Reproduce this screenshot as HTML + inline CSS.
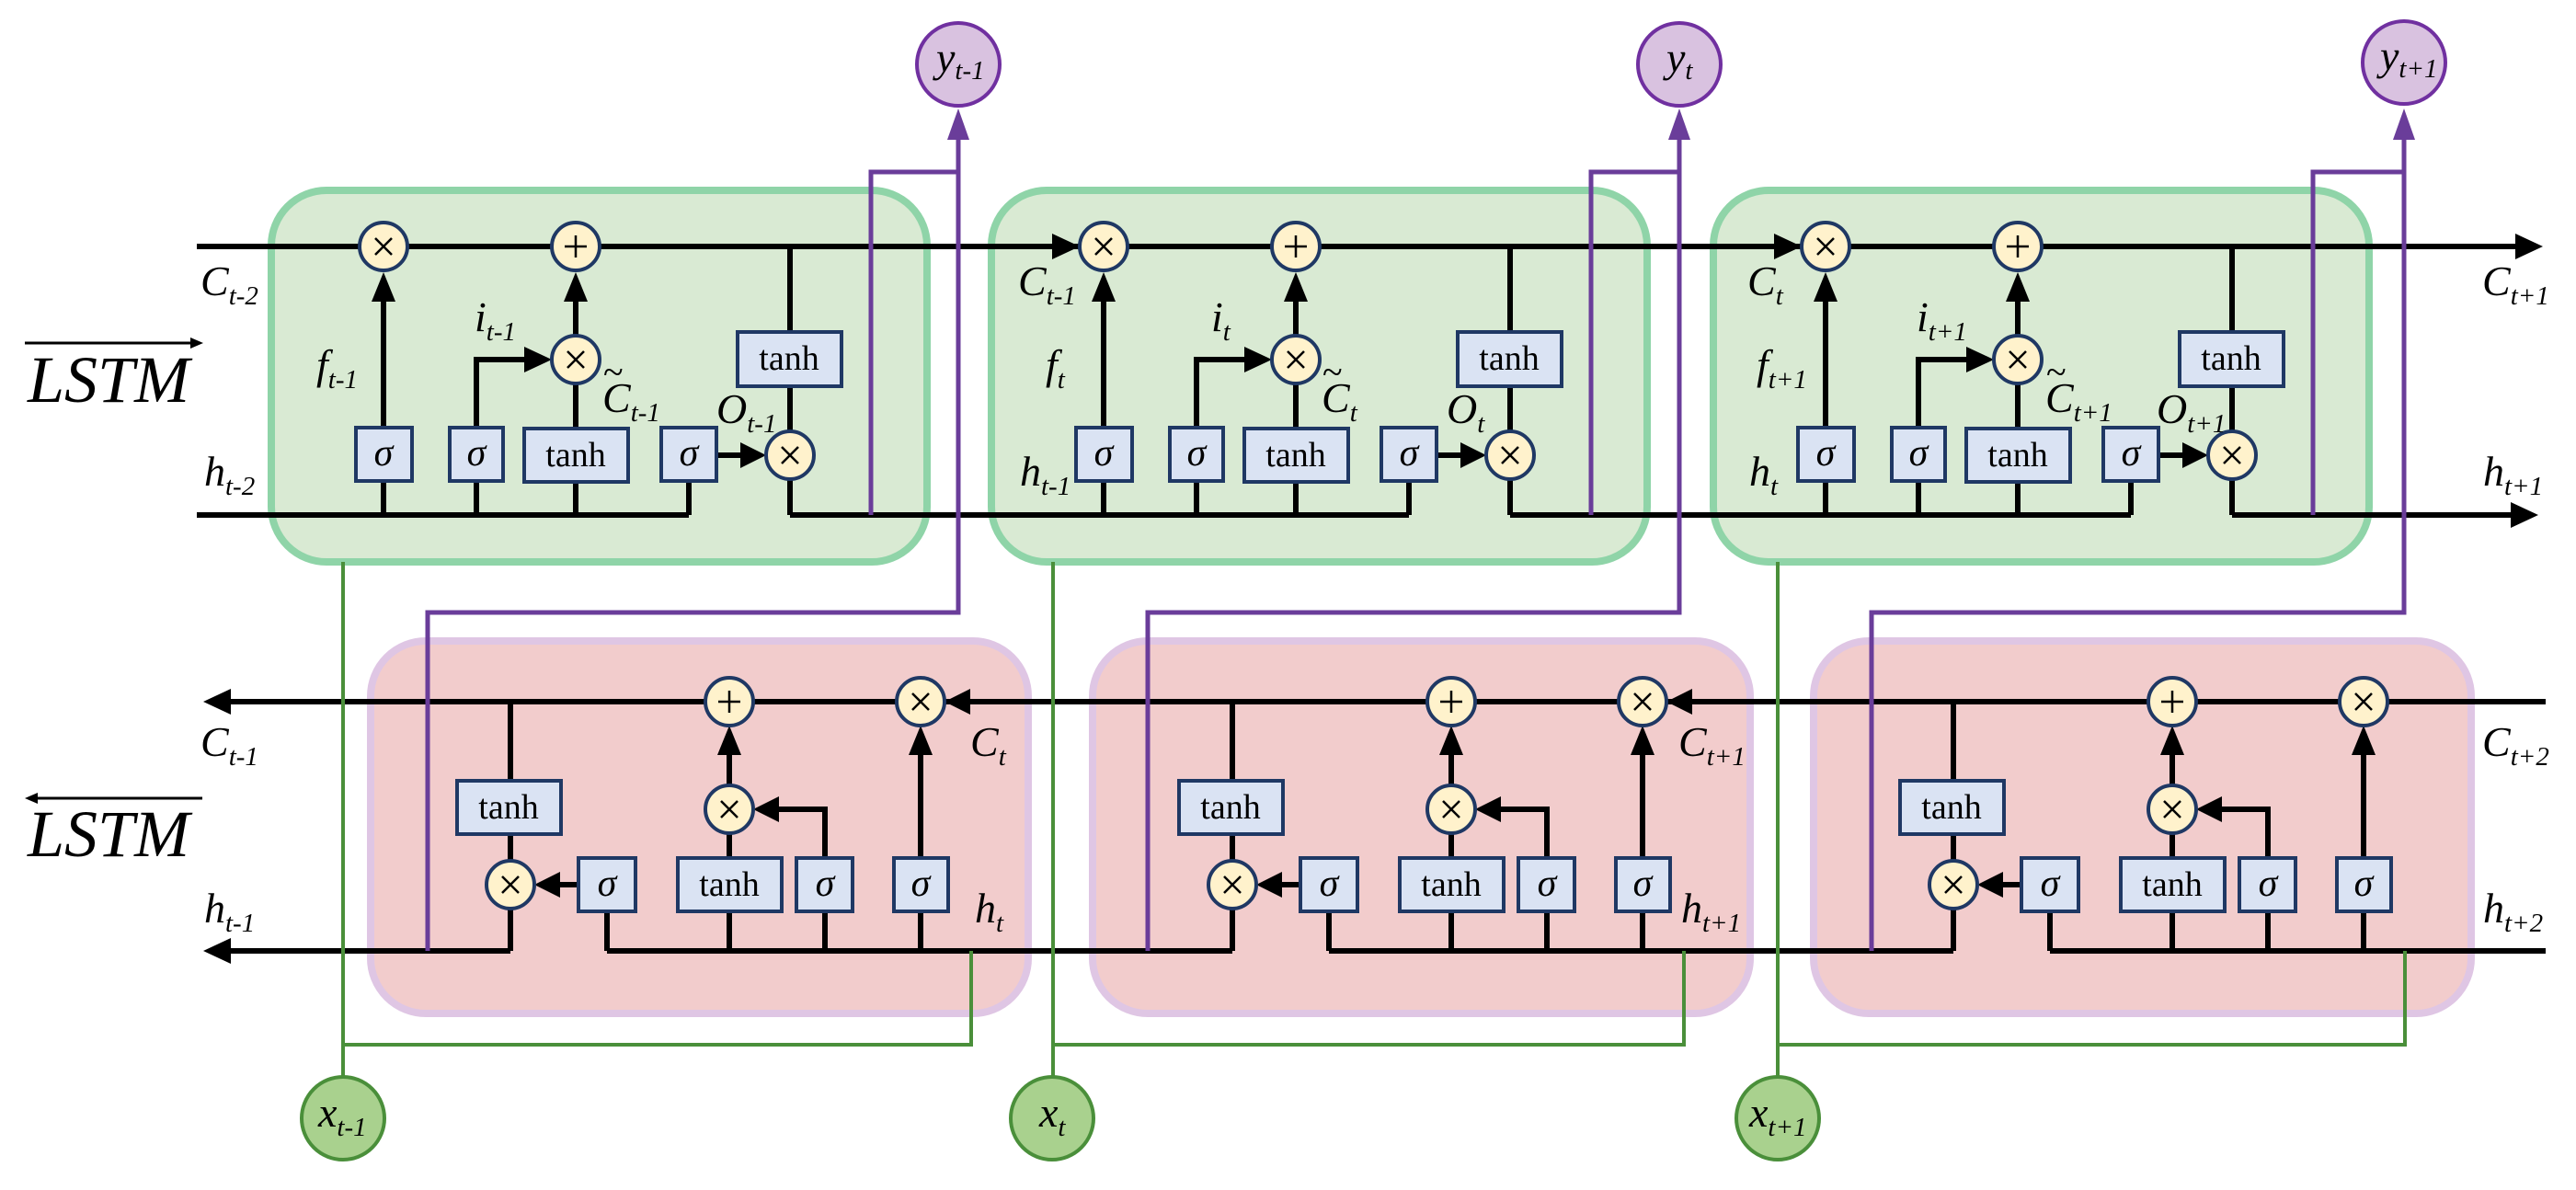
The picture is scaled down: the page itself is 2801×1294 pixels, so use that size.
<!DOCTYPE html>
<html><head><meta charset="utf-8"><style>
html,body{margin:0;padding:0;background:#fff;}
svg{display:block;}
text{font-family:"Liberation Serif",serif;}
.ln{stroke:#000;stroke-width:6;fill:none;}
.bx{fill:#dae3f3;stroke:#1f3864;stroke-width:4;}
.ci{fill:#fff2cc;stroke:#1f3864;stroke-width:4;}
.op{stroke:#000;stroke-width:2.5;fill:none;}
.pu{stroke:#6a3d9a;stroke-width:5;fill:none;}
.gr{stroke:#4a8f3a;stroke-width:4;fill:none;}
.lb{font-size:46px;font-style:italic;}
.sb{font-size:29px;font-style:italic;}
.bt{font-size:38px;text-anchor:middle;}
.sg{font-size:42px;font-style:italic;text-anchor:middle;}
</style></head><body>
<svg width="2801" height="1294" viewBox="0 0 2801 1294" xmlns="http://www.w3.org/2000/svg">
<rect x="295" y="207" width="713" height="404" rx="60" fill="#d9ead3" stroke="#8fd4a8" stroke-width="8"/>
<rect x="1078" y="207" width="713" height="404" rx="60" fill="#d9ead3" stroke="#8fd4a8" stroke-width="8"/>
<rect x="1863" y="207" width="713" height="404" rx="60" fill="#d9ead3" stroke="#8fd4a8" stroke-width="8"/>
<rect x="403" y="697" width="715" height="405" rx="60" fill="#f2cccc" stroke="#dfc6e4" stroke-width="8"/>
<rect x="1188" y="697" width="715" height="405" rx="60" fill="#f2cccc" stroke="#dfc6e4" stroke-width="8"/>
<rect x="1972" y="697" width="715" height="405" rx="60" fill="#f2cccc" stroke="#dfc6e4" stroke-width="8"/>

<line class="ln" x1="214" y1="268" x2="2740" y2="268"/>
<polygon points="2765,268 2735,254 2735,282"/>
<line class="ln" x1="214" y1="560" x2="749" y2="560"/>
<line class="ln" x1="859" y1="560" x2="1532" y2="560"/>
<line class="ln" x1="1642" y1="560" x2="2317" y2="560"/>
<line class="ln" x1="2427" y1="560" x2="2735" y2="560"/>
<polygon points="2760,560 2730,546 2730,574"/>

<line class="ln" x1="245" y1="763" x2="2768" y2="763"/>
<polygon points="221,763 251,749 251,777"/>
<line class="ln" x1="245" y1="1034" x2="555" y2="1034"/>
<polygon points="221,1034 251,1020 251,1048"/>
<line class="ln" x1="660" y1="1034" x2="1340" y2="1034"/>
<line class="ln" x1="1445" y1="1034" x2="2124" y2="1034"/>
<line class="ln" x1="2229" y1="1034" x2="2768" y2="1034"/>

<g>
<line class="ln" x1="417" y1="560" x2="417" y2="320"/>
<polygon points="417,296 404,328 430,328"/>
<line class="ln" x1="518" y1="560" x2="518" y2="391"/>
<line class="ln" x1="515" y1="391" x2="575" y2="391"/>
<polygon points="600,391 570,377 570,405"/>
<line class="ln" x1="626" y1="560" x2="626" y2="320"/>
<polygon points="626,296 613,328 639,328"/>
<line class="ln" x1="749" y1="560" x2="749" y2="495"/>
<line class="ln" x1="779" y1="495" x2="810" y2="495"/>
<polygon points="833,495 805,481 805,509"/>
<line class="ln" x1="859" y1="268" x2="859" y2="560"/>
<rect class="bx" x="387" y="465" width="61" height="58"/>
<rect class="bx" x="489" y="465" width="58" height="58"/>
<rect class="bx" x="570" y="466" width="113" height="58"/>
<rect class="bx" x="719" y="465" width="60" height="58"/>
<rect class="bx" x="802" y="361" width="113" height="59"/>
<circle class="ci" cx="417" cy="268" r="26"/>
<circle class="ci" cx="626" cy="268" r="26"/>
<circle class="ci" cx="626" cy="391" r="26"/>
<circle class="ci" cx="859" cy="495" r="26"/>
<path class="op" d="M408,259 L426,277 M426,259 L408,277"/>
<path class="op" d="M626,256 L626,280 M614,268 L638,268"/>
<path class="op" d="M617,382 L635,400 M635,382 L617,400"/>
<path class="op" d="M850,486 L868,504 M868,486 L850,504"/>
<text class="sg" x="417" y="506">σ</text>
<text class="sg" x="518" y="506">σ</text>
<text class="bt" x="626" y="507">tanh</text>
<text class="sg" x="749" y="506">σ</text>
<text class="bt" x="858" y="402">tanh</text>
</g>

<g transform="translate(783,0)">
<line class="ln" x1="417" y1="560" x2="417" y2="320"/>
<polygon points="417,296 404,328 430,328"/>
<line class="ln" x1="518" y1="560" x2="518" y2="391"/>
<line class="ln" x1="515" y1="391" x2="575" y2="391"/>
<polygon points="600,391 570,377 570,405"/>
<line class="ln" x1="626" y1="560" x2="626" y2="320"/>
<polygon points="626,296 613,328 639,328"/>
<line class="ln" x1="749" y1="560" x2="749" y2="495"/>
<line class="ln" x1="779" y1="495" x2="810" y2="495"/>
<polygon points="833,495 805,481 805,509"/>
<line class="ln" x1="859" y1="268" x2="859" y2="560"/>
<polygon points="391,268 361,254 361,282"/>
<rect class="bx" x="387" y="465" width="61" height="58"/>
<rect class="bx" x="489" y="465" width="58" height="58"/>
<rect class="bx" x="570" y="466" width="113" height="58"/>
<rect class="bx" x="719" y="465" width="60" height="58"/>
<rect class="bx" x="802" y="361" width="113" height="59"/>
<circle class="ci" cx="417" cy="268" r="26"/>
<circle class="ci" cx="626" cy="268" r="26"/>
<circle class="ci" cx="626" cy="391" r="26"/>
<circle class="ci" cx="859" cy="495" r="26"/>
<path class="op" d="M408,259 L426,277 M426,259 L408,277"/>
<path class="op" d="M626,256 L626,280 M614,268 L638,268"/>
<path class="op" d="M617,382 L635,400 M635,382 L617,400"/>
<path class="op" d="M850,486 L868,504 M868,486 L850,504"/>
<text class="sg" x="417" y="506">σ</text>
<text class="sg" x="518" y="506">σ</text>
<text class="bt" x="626" y="507">tanh</text>
<text class="sg" x="749" y="506">σ</text>
<text class="bt" x="858" y="402">tanh</text>
</g>

<g transform="translate(1568,0)">
<line class="ln" x1="417" y1="560" x2="417" y2="320"/>
<polygon points="417,296 404,328 430,328"/>
<line class="ln" x1="518" y1="560" x2="518" y2="391"/>
<line class="ln" x1="515" y1="391" x2="575" y2="391"/>
<polygon points="600,391 570,377 570,405"/>
<line class="ln" x1="626" y1="560" x2="626" y2="320"/>
<polygon points="626,296 613,328 639,328"/>
<line class="ln" x1="749" y1="560" x2="749" y2="495"/>
<line class="ln" x1="779" y1="495" x2="810" y2="495"/>
<polygon points="833,495 805,481 805,509"/>
<line class="ln" x1="859" y1="268" x2="859" y2="560"/>
<polygon points="391,268 361,254 361,282"/>
<rect class="bx" x="387" y="465" width="61" height="58"/>
<rect class="bx" x="489" y="465" width="58" height="58"/>
<rect class="bx" x="570" y="466" width="113" height="58"/>
<rect class="bx" x="719" y="465" width="60" height="58"/>
<rect class="bx" x="802" y="361" width="113" height="59"/>
<circle class="ci" cx="417" cy="268" r="26"/>
<circle class="ci" cx="626" cy="268" r="26"/>
<circle class="ci" cx="626" cy="391" r="26"/>
<circle class="ci" cx="859" cy="495" r="26"/>
<path class="op" d="M408,259 L426,277 M426,259 L408,277"/>
<path class="op" d="M626,256 L626,280 M614,268 L638,268"/>
<path class="op" d="M617,382 L635,400 M635,382 L617,400"/>
<path class="op" d="M850,486 L868,504 M868,486 L850,504"/>
<text class="sg" x="417" y="506">σ</text>
<text class="sg" x="518" y="506">σ</text>
<text class="bt" x="626" y="507">tanh</text>
<text class="sg" x="749" y="506">σ</text>
<text class="bt" x="858" y="402">tanh</text>
</g>

<g>
<line class="ln" x1="555" y1="763" x2="555" y2="1034"/>
<line class="ln" x1="660" y1="1034" x2="660" y2="962"/>
<line class="ln" x1="629" y1="962" x2="605" y2="962"/>
<polygon points="581,962 609,948 609,976"/>
<line class="ln" x1="793" y1="1034" x2="793" y2="815"/>
<polygon points="793,789 780,821 806,821"/>
<line class="ln" x1="897" y1="1034" x2="897" y2="880"/>
<line class="ln" x1="900" y1="880" x2="843" y2="880"/>
<polygon points="819,880 847,866 847,894"/>
<line class="ln" x1="1001" y1="1034" x2="1001" y2="815"/>
<polygon points="1001,789 988,821 1014,821"/>
<polygon points="1027,763 1055,749 1055,777"/>
<rect class="bx" x="497" y="849" width="113" height="58"/>
<rect class="bx" x="629" y="933" width="62" height="58"/>
<rect class="bx" x="737" y="933" width="113" height="58"/>
<rect class="bx" x="866" y="933" width="61" height="58"/>
<rect class="bx" x="972" y="933" width="59" height="58"/>
<circle class="ci" cx="793" cy="763" r="26"/>
<circle class="ci" cx="1001" cy="763" r="26"/>
<circle class="ci" cx="793" cy="880" r="26"/>
<circle class="ci" cx="555" cy="962" r="26"/>
<path class="op" d="M793,751 L793,775 M781,763 L805,763"/>
<path class="op" d="M992,754 L1010,772 M1010,754 L992,772"/>
<path class="op" d="M784,871 L802,889 M802,871 L784,889"/>
<path class="op" d="M546,953 L564,971 M564,953 L546,971"/>
<text class="bt" x="553" y="890">tanh</text>
<text class="sg" x="660" y="974">σ</text>
<text class="bt" x="793" y="974">tanh</text>
<text class="sg" x="897" y="974">σ</text>
<text class="sg" x="1001" y="974">σ</text>
</g>
<g transform="translate(785,0)">
<line class="ln" x1="555" y1="763" x2="555" y2="1034"/>
<line class="ln" x1="660" y1="1034" x2="660" y2="962"/>
<line class="ln" x1="629" y1="962" x2="605" y2="962"/>
<polygon points="581,962 609,948 609,976"/>
<line class="ln" x1="793" y1="1034" x2="793" y2="815"/>
<polygon points="793,789 780,821 806,821"/>
<line class="ln" x1="897" y1="1034" x2="897" y2="880"/>
<line class="ln" x1="900" y1="880" x2="843" y2="880"/>
<polygon points="819,880 847,866 847,894"/>
<line class="ln" x1="1001" y1="1034" x2="1001" y2="815"/>
<polygon points="1001,789 988,821 1014,821"/>
<polygon points="1027,763 1055,749 1055,777"/>
<rect class="bx" x="497" y="849" width="113" height="58"/>
<rect class="bx" x="629" y="933" width="62" height="58"/>
<rect class="bx" x="737" y="933" width="113" height="58"/>
<rect class="bx" x="866" y="933" width="61" height="58"/>
<rect class="bx" x="972" y="933" width="59" height="58"/>
<circle class="ci" cx="793" cy="763" r="26"/>
<circle class="ci" cx="1001" cy="763" r="26"/>
<circle class="ci" cx="793" cy="880" r="26"/>
<circle class="ci" cx="555" cy="962" r="26"/>
<path class="op" d="M793,751 L793,775 M781,763 L805,763"/>
<path class="op" d="M992,754 L1010,772 M1010,754 L992,772"/>
<path class="op" d="M784,871 L802,889 M802,871 L784,889"/>
<path class="op" d="M546,953 L564,971 M564,953 L546,971"/>
<text class="bt" x="553" y="890">tanh</text>
<text class="sg" x="660" y="974">σ</text>
<text class="bt" x="793" y="974">tanh</text>
<text class="sg" x="897" y="974">σ</text>
<text class="sg" x="1001" y="974">σ</text>
</g>
<g transform="translate(1569,0)">
<line class="ln" x1="555" y1="763" x2="555" y2="1034"/>
<line class="ln" x1="660" y1="1034" x2="660" y2="962"/>
<line class="ln" x1="629" y1="962" x2="605" y2="962"/>
<polygon points="581,962 609,948 609,976"/>
<line class="ln" x1="793" y1="1034" x2="793" y2="815"/>
<polygon points="793,789 780,821 806,821"/>
<line class="ln" x1="897" y1="1034" x2="897" y2="880"/>
<line class="ln" x1="900" y1="880" x2="843" y2="880"/>
<polygon points="819,880 847,866 847,894"/>
<line class="ln" x1="1001" y1="1034" x2="1001" y2="815"/>
<polygon points="1001,789 988,821 1014,821"/>
<rect class="bx" x="497" y="849" width="113" height="58"/>
<rect class="bx" x="629" y="933" width="62" height="58"/>
<rect class="bx" x="737" y="933" width="113" height="58"/>
<rect class="bx" x="866" y="933" width="61" height="58"/>
<rect class="bx" x="972" y="933" width="59" height="58"/>
<circle class="ci" cx="793" cy="763" r="26"/>
<circle class="ci" cx="1001" cy="763" r="26"/>
<circle class="ci" cx="793" cy="880" r="26"/>
<circle class="ci" cx="555" cy="962" r="26"/>
<path class="op" d="M793,751 L793,775 M781,763 L805,763"/>
<path class="op" d="M992,754 L1010,772 M1010,754 L992,772"/>
<path class="op" d="M784,871 L802,889 M802,871 L784,889"/>
<path class="op" d="M546,953 L564,971 M564,953 L546,971"/>
<text class="bt" x="553" y="890">tanh</text>
<text class="sg" x="660" y="974">σ</text>
<text class="bt" x="793" y="974">tanh</text>
<text class="sg" x="897" y="974">σ</text>
<text class="sg" x="1001" y="974">σ</text>
</g>

<g class="gr">
<polyline points="373,611 373,1170"/><polyline points="373,1136 1056,1136 1056,1034"/>
<polyline points="1145,611 1145,1170"/><polyline points="1145,1136 1831,1136 1831,1034"/>
<polyline points="1933,611 1933,1170"/><polyline points="1933,1136 2615,1136 2615,1034"/>
</g>
<circle cx="373" cy="1216" r="45" fill="#a9d18e" stroke="#4a8f3a" stroke-width="4"/>
<circle cx="1144" cy="1216" r="45" fill="#a9d18e" stroke="#4a8f3a" stroke-width="4"/>
<circle cx="1933" cy="1216" r="45" fill="#a9d18e" stroke="#4a8f3a" stroke-width="4"/>

<g class="pu">
<polyline points="947,560 947,187 1042,187"/><polyline points="465,1034 465,666 1042,666 1042,145"/>
<polyline points="1730,560 1730,187 1826,187"/><polyline points="1248,1034 1248,666 1826,666 1826,145"/>
<polyline points="2515,560 2515,187 2614,187"/><polyline points="2035,1034 2035,666 2614,666 2614,145"/>
</g>
<g fill="#6a3d9a">
<polygon points="1042,118 1030,152 1054,152"/>
<polygon points="1826,118 1814,152 1838,152"/>
<polygon points="2614,118 2602,152 2626,152"/>
</g>
<circle cx="1042" cy="70" r="45" fill="#d9c2e0" stroke="#7030a0" stroke-width="4"/>
<circle cx="1826" cy="70" r="45" fill="#d9c2e0" stroke="#7030a0" stroke-width="4"/>
<circle cx="2614" cy="68" r="45" fill="#d9c2e0" stroke="#7030a0" stroke-width="4"/>

<text class="lb" x="1018" y="78">y<tspan class="sb" dy="8">t-1</tspan></text>
<text class="lb" x="1812" y="78">y<tspan class="sb" dy="8">t</tspan></text>
<text class="lb" x="2588" y="76">y<tspan class="sb" dy="8">t+1</tspan></text>
<text class="lb" x="346" y="1225">x<tspan class="sb" dy="10">t-1</tspan></text>
<text class="lb" x="1130" y="1225">x<tspan class="sb" dy="10">t</tspan></text>
<text class="lb" x="1902" y="1225">x<tspan class="sb" dy="10">t+1</tspan></text>

<line x1="27" y1="373" x2="212" y2="373" stroke="#000" stroke-width="3"/>
<polygon points="221,373 207,367 207,379"/>
<text x="30" y="437" style="font-size:72px;font-style:italic">LSTM</text>
<line x1="36" y1="868" x2="220" y2="868" stroke="#000" stroke-width="3"/>
<polygon points="27,868 41,862 41,874"/>
<text x="30" y="931" style="font-size:72px;font-style:italic">LSTM</text>

<text class="lb" x="218" y="321">C<tspan class="sb" dy="10">t-2</tspan></text>
<text class="lb" x="222" y="528">h<tspan class="sb" dy="10">t-2</tspan></text>
<text class="lb" x="344" y="412">f<tspan class="sb" dy="10">t-1</tspan></text>
<text class="lb" x="516" y="360">i<tspan class="sb" dy="10">t-1</tspan></text>
<text class="lb" x="655" y="448">C<tspan class="sb" dy="10">t-1</tspan></text>
<text x="656" y="418" style="font-size:40px">~</text>
<text class="lb" x="779" y="460">O<tspan class="sb" dy="10">t-1</tspan></text>

<text class="lb" x="1107" y="321">C<tspan class="sb" dy="10">t-1</tspan></text>
<text class="lb" x="1109" y="528">h<tspan class="sb" dy="10">t-1</tspan></text>
<text class="lb" x="1137" y="412">f<tspan class="sb" dy="10">t</tspan></text>
<text class="lb" x="1317" y="360">i<tspan class="sb" dy="10">t</tspan></text>
<text class="lb" x="1437" y="448">C<tspan class="sb" dy="10">t</tspan></text>
<text x="1438" y="418" style="font-size:40px">~</text>
<text class="lb" x="1573" y="460">O<tspan class="sb" dy="10">t</tspan></text>

<text class="lb" x="1900" y="321">C<tspan class="sb" dy="10">t</tspan></text>
<text class="lb" x="1902" y="528">h<tspan class="sb" dy="10">t</tspan></text>
<text class="lb" x="1910" y="412">f<tspan class="sb" dy="10">t+1</tspan></text>
<text class="lb" x="2084" y="360">i<tspan class="sb" dy="10">t+1</tspan></text>
<text class="lb" x="2224" y="448">C<tspan class="sb" dy="10">t+1</tspan></text>
<text x="2225" y="418" style="font-size:40px">~</text>
<text class="lb" x="2345" y="460">O<tspan class="sb" dy="10">t+1</tspan></text>

<text class="lb" x="2699" y="321">C<tspan class="sb" dy="10">t+1</tspan></text>
<text class="lb" x="2700" y="528">h<tspan class="sb" dy="10">t+1</tspan></text>

<text class="lb" x="218" y="822">C<tspan class="sb" dy="10">t-1</tspan></text>
<text class="lb" x="222" y="1003">h<tspan class="sb" dy="10">t-1</tspan></text>
<text class="lb" x="1055" y="822">C<tspan class="sb" dy="10">t</tspan></text>
<text class="lb" x="1060" y="1003">h<tspan class="sb" dy="10">t</tspan></text>
<text class="lb" x="1825" y="822">C<tspan class="sb" dy="10">t+1</tspan></text>
<text class="lb" x="1828" y="1003">h<tspan class="sb" dy="10">t+1</tspan></text>
<text class="lb" x="2699" y="822">C<tspan class="sb" dy="10">t+2</tspan></text>
<text class="lb" x="2700" y="1003">h<tspan class="sb" dy="10">t+2</tspan></text>
</svg>
</body></html>
